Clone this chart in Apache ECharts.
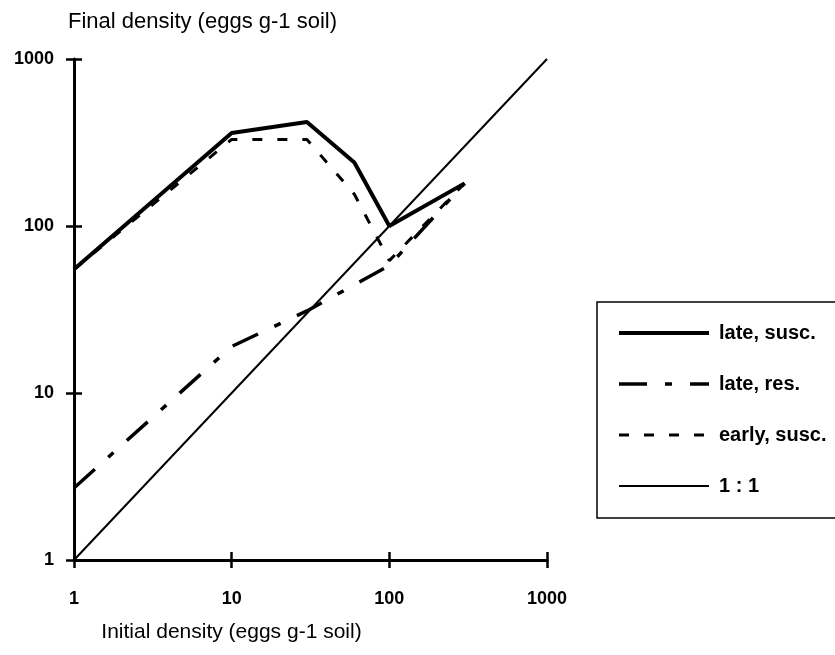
<!DOCTYPE html>
<html><head><meta charset="utf-8">
<script src="https://cdn.jsdelivr.net/npm/echarts@6/dist/echarts.min.js"></script>
<style>html,body{margin:0;padding:0;background:#fff}#c{width:835px;height:655px}</style>
</head><body><div id="c"></div>
<script>
const xTicks = [1, 10, 100, 1000];
const yTicks = [1, 10, 100, 1000];
const lateSuscX = [1, 10, 30, 60, 100, 300];
const lateSuscY = [55, 360, 420, 240, 100, 180];
const lateResX = [1, 10, 30, 100, 300];
const lateResY = [2.7, 19, 31, 58, 180];
const earlySuscX = [1, 10, 30, 60, 100, 300];
const earlySuscY = [55, 330, 330, 155, 62, 180];
const oneToOneX = [1, 1000];
const oneToOneY = [1, 1000];
const names = ['late, susc.', 'late, res.', 'early, susc.', '1 : 1'];

const zip = (a, b) => a.map((v, i) => [v, b[i]]);
const font = 'Liberation Sans, Arial, sans-serif';
const fmt = v => String(Math.round(v));

const chart = echarts.init(document.getElementById('c'));
const axisBase = {
  type: 'log', logBase: 10, min: 1, max: 1000,
  splitLine: { show: false }, minorTick: { show: false }
};
chart.setOption({
  backgroundColor: '#fff',
  animation: false,
  color: ['#000'],
  grid: { left: 74, right: 288, top: 59, bottom: 95 },
  xAxis: [
    Object.assign({}, axisBase, {
      name: 'Initial density (eggs g-1 soil)',
      nameLocation: 'middle', nameGap: 62,
      nameTextStyle: { fontFamily: font, fontSize: 21, color: '#000', padding: [0, 158, 0, 0] },
      axisLine: { lineStyle: { color: '#000', width: 3 } },
      axisTick: { show: true, length: 8, lineStyle: { color: '#000', width: 2.5 } },
      axisLabel: { fontFamily: font, fontSize: 18, fontWeight: 'bold', color: '#000', margin: 30, formatter: fmt }
    }),
    Object.assign({}, axisBase, {
      position: 'bottom',
      axisLine: { show: false },
      axisTick: { show: true, inside: true, length: 8, lineStyle: { color: '#000', width: 2.5 } },
      axisLabel: { show: false }
    })
  ],
  yAxis: [
    Object.assign({}, axisBase, {
      name: 'Final density (eggs g-1 soil)',
      nameLocation: 'end', nameGap: 26,
      nameTextStyle: { fontFamily: font, fontSize: 22, color: '#000', align: 'left', padding: [0, 0, 0, -6] },
      axisLine: { lineStyle: { color: '#000', width: 3 } },
      axisTick: { show: true, length: 8, lineStyle: { color: '#000', width: 2.5 } },
      axisLabel: { fontFamily: font, fontSize: 18, fontWeight: 'bold', color: '#000', margin: 20, formatter: fmt }
    }),
    Object.assign({}, axisBase, {
      position: 'left',
      axisLine: { show: false },
      axisTick: { show: true, inside: true, length: 8, lineStyle: { color: '#000', width: 2.5 } },
      axisLabel: { show: false }
    })
  ],
  legend: {
    orient: 'vertical', left: 612, top: 318,
    itemWidth: 90, itemHeight: 14, itemGap: 31,
    itemStyle: { opacity: 0 },
    lineStyle: { width: 'inherit' },
    textStyle: { fontFamily: font, fontSize: 20, fontWeight: 'bold', color: '#000', padding: [0, 0, 0, 5] },
    data: names
  },
  graphic: [{
    type: 'rect', shape: { x: 597, y: 302, width: 260, height: 216 },
    style: { fill: 'none', stroke: '#000', lineWidth: 1.5 }, z: 100
  }],
  series: [
    { name: names[3], type: 'line', data: zip(oneToOneX, oneToOneY), symbol: 'none',
      itemStyle: { color: '#000' }, lineStyle: { color: '#000', width: 2 } },
    { name: names[1], type: 'line', data: zip(lateResX, lateResY), symbol: 'none',
      itemStyle: { color: '#000' }, lineStyle: { color: '#000', width: 3.5, type: [28, 18, 7, 18] } },
    { name: names[2], type: 'line', data: zip(earlySuscX, earlySuscY), symbol: 'none',
      itemStyle: { color: '#000' }, lineStyle: { color: '#000', width: 3, type: [10, 15] } },
    { name: names[0], type: 'line', data: zip(lateSuscX, lateSuscY), symbol: 'none',
      itemStyle: { color: '#000' }, lineStyle: { color: '#000', width: 4 } }
  ]
});
</script></body></html>
